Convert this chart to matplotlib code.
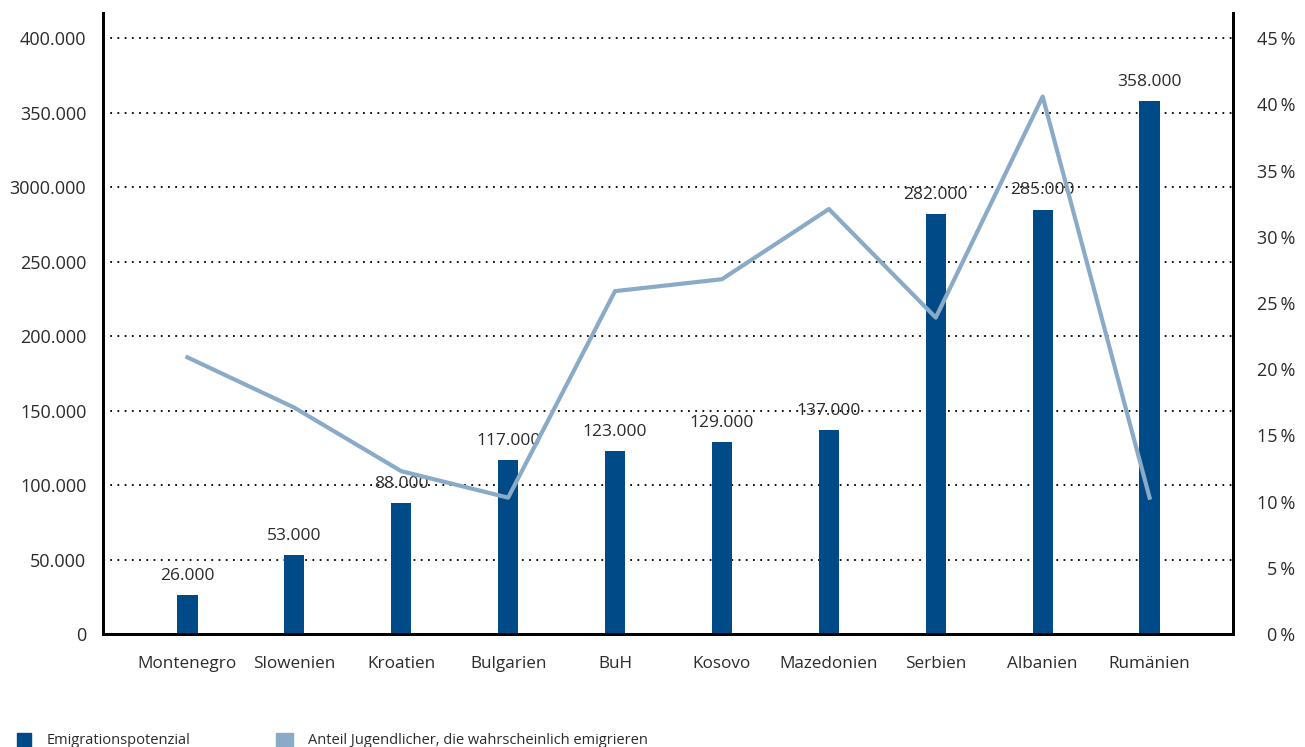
import matplotlib
matplotlib.use("Agg")
import matplotlib.pyplot as plt
from matplotlib.patches import Rectangle
from matplotlib.ticker import FixedLocator

plt.rcParams['font.family'] = ['Open Sans', 'DejaVu Sans']

# data
countries = ["Montenegro", "Slowenien", "Kroatien", "Bulgarien", "BuH",
             "Kosovo", "Mazedonien", "Serbien", "Albanien", "Rumänien"]
potential = [26000, 53000, 88000, 117000, 123000, 129000, 137000, 282000, 285000, 358000]
bar_labels = ["26.000", "53.000", "88.000", "117.000", "123.000",
              "129.000", "137.000", "282.000", "285.000", "358.000"]
share_young = [20.9, 17.1, 12.3, 10.3, 25.9, 26.8, 32.1, 23.9, 40.6, 10.3]
left_ticks = [0, 50000, 100000, 150000, 200000, 250000, 300000, 350000, 400000]
left_tick_labels = ["0", "50.000", "100.000", "150.000", "200.000",
                    "250.000", "3000.000", "350.000", "400.000"]
right_ticks = [0, 5, 10, 15, 20, 25, 30, 35, 40, 45]
right_tick_labels = [f"{t}\u2009%" for t in right_ticks]

bar_color = "#004a87"
line_color = "#8aabc8"
text_color = "#2b2b2b"

fig = plt.figure(figsize=(13.05, 7.47), dpi=100)
ax = fig.add_axes([0.0789, 0.1513, 0.8659, 0.8313])
ax2 = ax.twinx()

x = list(range(len(countries)))

# bars
ax.bar(x, potential, width=0.19, color=bar_color, zorder=3)
for xi, v, lab in zip(x, potential, bar_labels):
    ax.annotate(lab, (xi, v), xytext=(0, 8), textcoords="offset points",
                ha="center", va="bottom", fontsize=12.5, color=text_color, zorder=5)

ax.set_xlim(-0.79, 9.78)
ax.set_ylim(0, 417000)
ax.yaxis.set_major_locator(FixedLocator(left_ticks))
ax.set_yticklabels(left_tick_labels)
ax.set_xticks(x)
ax.set_xticklabels(countries)
ax.tick_params(axis="y", length=0, pad=12, labelsize=13, labelcolor=text_color)
ax.tick_params(axis="x", length=0, pad=16, labelsize=12.3, labelcolor=text_color)
ax.grid(axis="y", linestyle=(0, (1, 3)), color="black", linewidth=1.3, zorder=1)

# line on right axis
ax2.plot(x, share_young, color=line_color, linewidth=3, zorder=4)
ax2.set_ylim(0, 417000 / 400000 * 45)
ax2.yaxis.set_major_locator(FixedLocator(right_ticks))
ax2.set_yticklabels(right_tick_labels)
ax2.tick_params(axis="y", length=0, pad=45, labelsize=13, labelcolor=text_color)
for lab in ax2.get_yticklabels():
    lab.set_horizontalalignment("right")

for a in (ax, ax2):
    a.spines["top"].set_visible(False)
    a.spines["left"].set_linewidth(2)
    a.spines["right"].set_linewidth(2)
    a.spines["bottom"].set_linewidth(2)

# legend at the bottom
fig.patches.append(Rectangle((17 / 1305, 0), 14 / 1305, 14 / 747,
                             transform=fig.transFigure, color=bar_color))
fig.text(47 / 1305, 7 / 747, "Emigrationspotenzial", fontsize=10.5,
         color=text_color, va="center", ha="left")
fig.patches.append(Rectangle((276 / 1305, 0), 17 / 1305, 14 / 747,
                             transform=fig.transFigure, color=line_color))
fig.text(308 / 1305, 7 / 747, "Anteil Jugendlicher, die wahrscheinlich emigrieren",
         fontsize=10.5, color=text_color, va="center", ha="left")

fig.savefig("out.png", dpi=100)
